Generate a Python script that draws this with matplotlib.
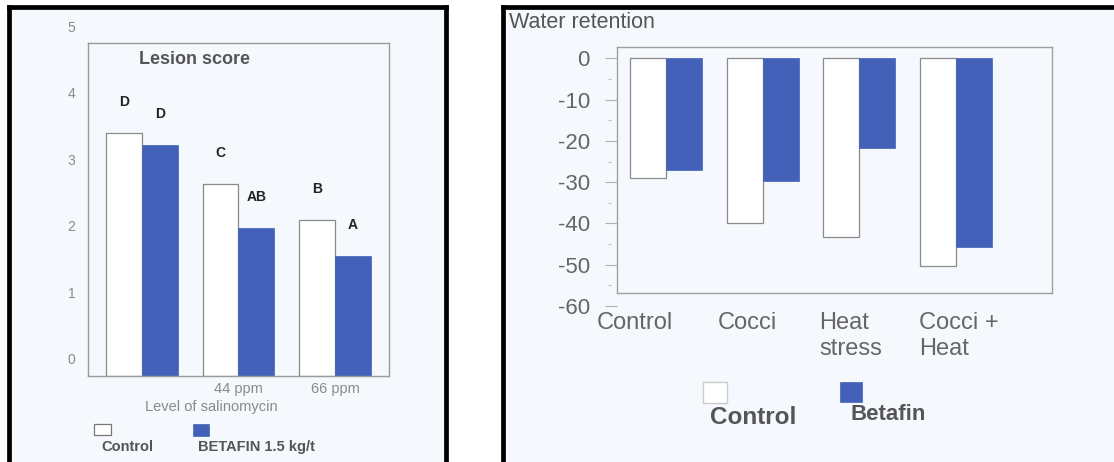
import numpy as np
import matplotlib
matplotlib.use("Agg")
import matplotlib.pyplot as plt
from matplotlib.patches import Rectangle
from matplotlib.lines import Line2D
from matplotlib.transforms import ScaledTranslation

# ---------------- data ----------------
lesion_groups = ["", "44 ppm", "66 ppm"]
lesion_control = [3.39, 2.63, 2.08]
lesion_betafin = [3.22, 1.97, 1.55]
lesion_letters_control = ["D", "C", "B"]
lesion_letters_betafin = ["D", "AB", "A"]
lesion_yticks = [0, 1, 2, 3, 4, 5]

water_groups = ["Control", "Cocci", "Heat\nstress", "Cocci +\nHeat"]
water_control = [-29.0, -39.8, -43.2, -50.3]
water_betafin = [-27.0, -29.6, -21.6, -45.7]
water_yticks = [0, -10, -20, -30, -40, -50, -60]

# ---------------- style ----------------
W, H, DPI = 1114, 462, 100
FONT = ["Liberation Sans", "DejaVu Sans"]
plt.rcParams["font.family"] = FONT
plt.rcParams["axes.unicode_minus"] = False
BLUE = "#4361b8"
EDGE = "#8a8a8a"
PANEL_BG = "#f5f8fc"
BAR_W = 0.372

fig = plt.figure(figsize=(W / DPI, H / DPI), dpi=DPI)
fig.patch.set_facecolor("white")


def fx(px):
    return px / W


def fy(py):
    return 1 - py / H


# panel backgrounds and borders
fig.add_artist(Rectangle((fx(9), 0), fx(446) - fx(9), fy(7), transform=fig.transFigure,
                         facecolor=PANEL_BG, edgecolor="none", zorder=-5))
fig.add_artist(Rectangle((fx(503), 0), 1 - fx(503), fy(7), transform=fig.transFigure,
                         facecolor=PANEL_BG, edgecolor="none", zorder=-5))
for xs, ys in [([9, 9], [7, 462]), ([9, 446], [7, 7]), ([446, 446], [7, 462]),
               ([503, 503], [7, 462]), ([503, 1114], [7, 7])]:
    fig.add_artist(Line2D([fx(x) for x in xs], [fy(y) for y in ys],
                          transform=fig.transFigure, color="black", lw=3.4,
                          solid_capstyle="projecting"))

# ================= left panel =================
axL = fig.add_axes([fx(88), fy(376), fx(389) - fx(88), fy(43) - fy(376)])
axL.set_facecolor("none")
L_BASE = -0.255
axL.set_ylim(L_BASE, 4.745)
axL.set_xlim(-0.56, 2.56)
xl = np.arange(len(lesion_groups))
axL.bar(xl - BAR_W / 2, np.array(lesion_control) - L_BASE, BAR_W, bottom=L_BASE,
        color="white", edgecolor=EDGE, lw=0.9)
axL.bar(xl + BAR_W / 2, np.array(lesion_betafin) - L_BASE, BAR_W, bottom=L_BASE,
        color=BLUE, edgecolor=BLUE, lw=0.5)
off = 31 * 72 / DPI
for i in range(len(xl)):
    axL.annotate(lesion_letters_control[i], (xl[i] - BAR_W / 2, lesion_control[i]),
                 xytext=(0, off), textcoords="offset points", ha="center", va="center",
                 fontsize=10, fontweight="bold", color="#222222")
    axL.annotate(lesion_letters_betafin[i], (xl[i] + BAR_W / 2, lesion_betafin[i]),
                 xytext=(0, off), textcoords="offset points", ha="center", va="center",
                 fontsize=10, fontweight="bold", color="#222222")
axL.set_xticks(xl, lesion_groups, fontsize=10.5, color="#8a8a8a")
axL.tick_params(axis="x", length=0, pad=4)
axL.set_yticks([])
for s in axL.spines.values():
    s.set_color("#9a9a9a")
    s.set_linewidth(1.0)
axL.text(0.355, 0.949, "Lesion score", transform=axL.transAxes, ha="center", va="center",
         fontsize=13, fontweight="bold", color="#555555")
fig.text(fx(211), fy(407), "Level of salinomycin", ha="center", va="center",
         fontsize=10.5, color="#8a8a8a")

# left tick axis (labels)
axLt = fig.add_axes([fx(88), fy(359), 0.0001, fy(26) - fy(359)])
axLt.set_ylim(0, 5)
axLt.set_yticks(lesion_yticks)
axLt.tick_params(axis="y", length=0, pad=9, labelsize=10, labelcolor="#8a8a8a")
axLt.set_xticks([])
axLt.patch.set_visible(False)
for s in axLt.spines.values():
    s.set_visible(False)

# left legend
fig.add_artist(Rectangle((fx(94), fy(435)), fx(111) - fx(94), fy(424) - fy(435),
                         transform=fig.transFigure, facecolor="white", edgecolor="#777777", lw=0.9))
fig.add_artist(Rectangle((fx(193), fy(436)), fx(209) - fx(193), fy(424) - fy(436),
                         transform=fig.transFigure, facecolor=BLUE, edgecolor=BLUE, lw=0.5))
fig.text(fx(101), fy(447), "Control", ha="left", va="center", fontsize=10.5,
         fontweight="bold", color="#555555")
fig.text(fx(198), fy(447), "BETAFIN 1.5 kg/t", ha="left", va="center", fontsize=10.5,
         fontweight="bold", color="#555555")

# ================= right panel =================
axR = fig.add_axes([fx(617), fy(293), fx(1052) - fx(617), fy(47) - fy(293)])
axR.set_facecolor("none")
axR.set_ylim(-56.8, 2.75)
axR.set_xlim(-0.507, 3.993)
xr = np.arange(len(water_groups))
axR.bar(xr - BAR_W / 2, water_control, BAR_W, color="white", edgecolor=EDGE, lw=0.9)
axR.bar(xr + BAR_W / 2, water_betafin, BAR_W, color=BLUE, edgecolor=BLUE, lw=0.5)
axR.set_yticks([])
axR.set_xticks(xr, water_groups, fontsize=17, color="#666666", ha="left",
               multialignment="left", va="top", linespacing=1.2)
axR.tick_params(axis="x", length=0, pad=14)
label_shift_px = [-69, -45, -40, -37]
for lab, dx in zip(axR.get_xticklabels(), label_shift_px):
    lab.set_transform(lab.get_transform() + ScaledTranslation(dx / DPI, 0, fig.dpi_scale_trans))
for s in axR.spines.values():
    s.set_color("#a0a0a0")
    s.set_linewidth(1.0)

# right tick axis
axRt = fig.add_axes([fx(611), fy(306), 0.0001, fy(58.3) - fy(306)])
axRt.set_ylim(-60, 0)
axRt.set_yticks(water_yticks)
axRt.set_yticks(np.arange(-55, 0, 10), minor=True)
axRt.tick_params(axis="y", which="major", direction="inout", length=12 * 72 / DPI,
                 width=0.8, color="#b0b0b0", pad=15 * 72 / DPI, labelsize=16,
                 labelcolor="#666666")
axRt.tick_params(axis="y", which="minor", direction="out", length=3 * 72 / DPI,
                 width=0.8, color="#c0c0c0")
axRt.set_xticks([])
axRt.patch.set_visible(False)
for s in axRt.spines.values():
    s.set_visible(False)

fig.text(fx(509), fy(23), "Water retention", ha="left", va="center", fontsize=15.5,
         color="#555555")

# right legend
fig.add_artist(Rectangle((fx(703), fy(403)), fx(727) - fx(703), fy(382) - fy(403),
                         transform=fig.transFigure, facecolor="white", edgecolor="#cccccc", lw=1.0))
fig.add_artist(Rectangle((fx(840), fy(402)), fx(862) - fx(840), fy(382) - fy(402),
                         transform=fig.transFigure, facecolor=BLUE, edgecolor=BLUE, lw=0.5))
fig.text(fx(710), fy(417), "Control", ha="left", va="center", fontsize=17.5,
         fontweight="bold", color="#555555")
fig.text(fx(850), fy(415), "Betafin", ha="left", va="center", fontsize=16,
         fontweight="bold", color="#555555")

fig.savefig("out.png", dpi=DPI)
